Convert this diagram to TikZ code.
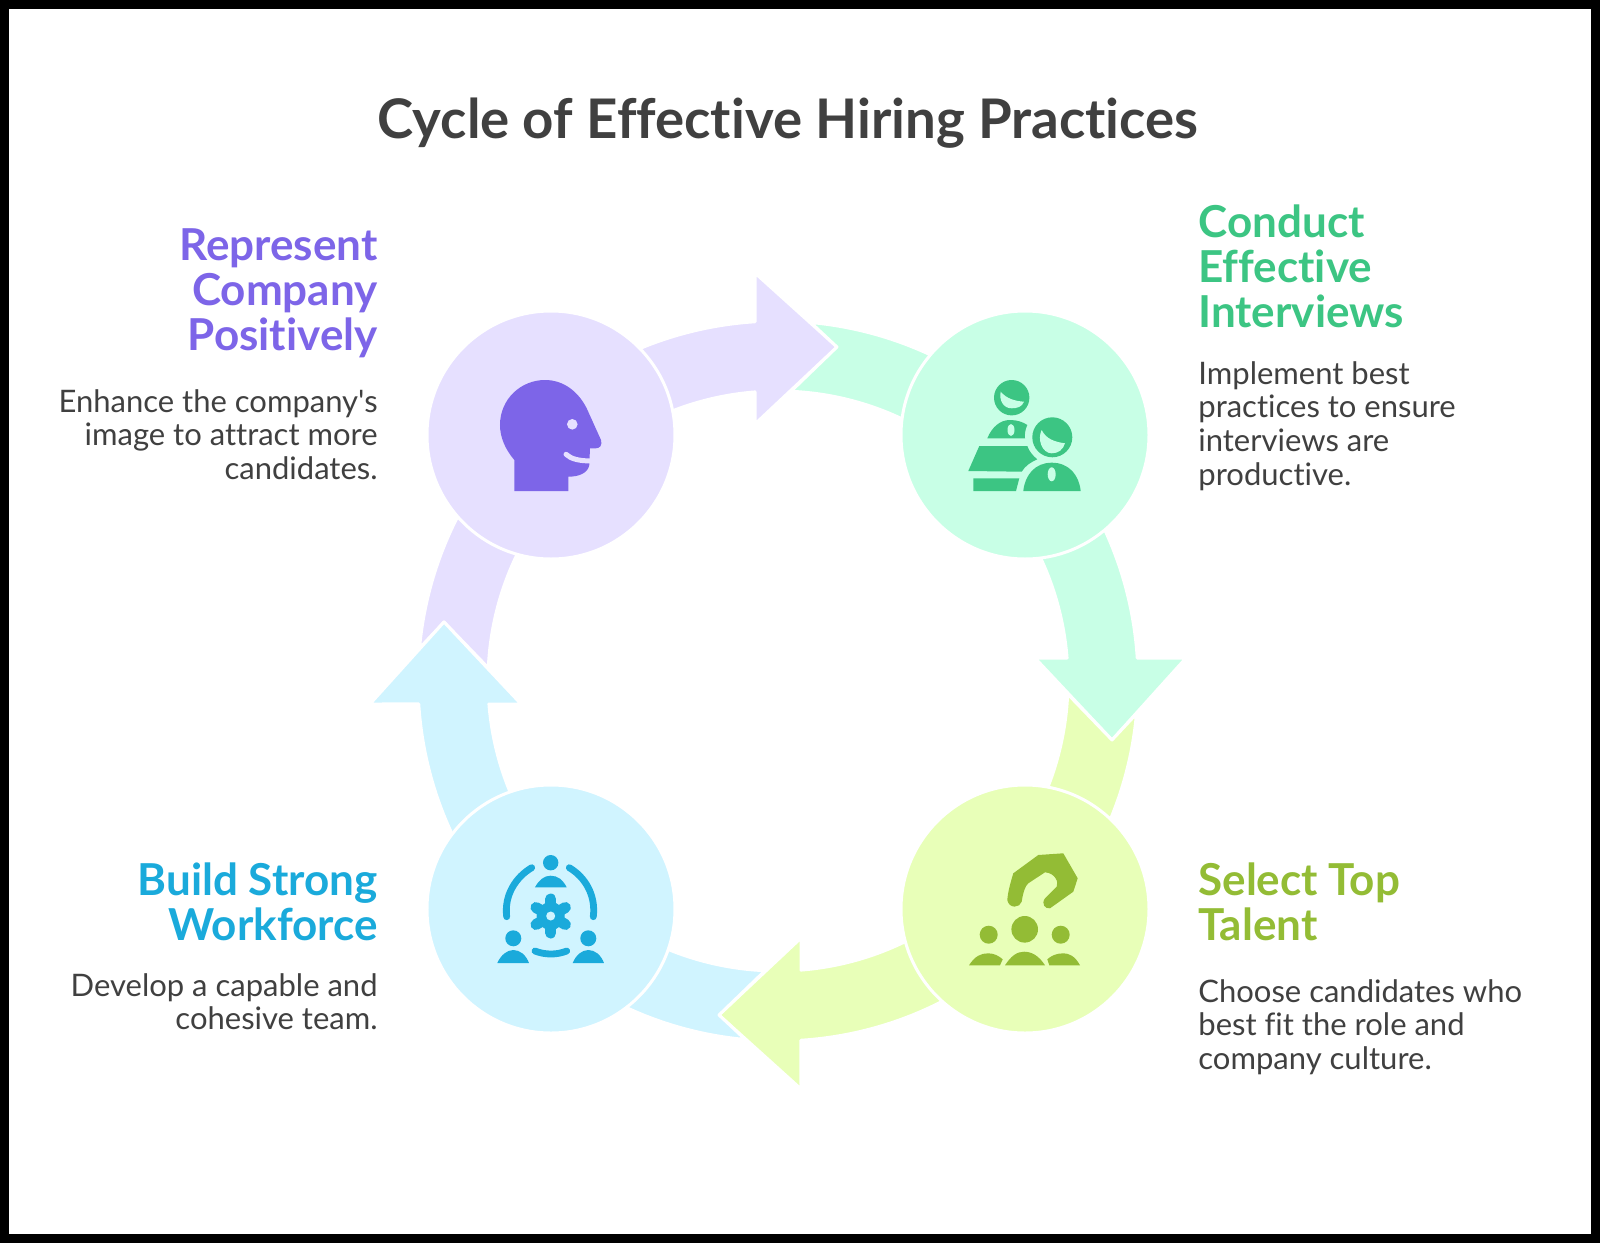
\documentclass[tikz,border=0pt]{standalone}
\usepackage{fontspec}
\setmainfont{Lato}[Ligatures={TeXOff,NoCommon}]
\usepackage{xcolor}
\usepackage{tikz}
\usetikzlibrary{positioning}
\definecolor{inkgrey}{RGB}{64,64,64}
\definecolor{repmain}{RGB}{125,101,232}
\definecolor{repsoft}{RGB}{230,224,255}
\definecolor{conmain}{RGB}{60,197,131}
\definecolor{consoft}{RGB}{200,255,230}
\definecolor{selmain}{RGB}{147,188,53}
\definecolor{selsoft}{RGB}{232,255,184}
\definecolor{buimain}{RGB}{26,170,219}
\definecolor{buisoft}{RGB}{208,244,255}
\tikzstyle{hub}=[circle,draw=white,line width=1.5pt,minimum size=124pt,inner sep=0pt]
\tikzstyle{flow}=[draw=white,line width=1.5pt,line join=round]
\tikzstyle{headlabel}=[inner sep=0pt,font=\fontsize{22}{22.5}\selectfont\bfseries]
\tikzstyle{bodylabel}=[inner sep=0pt,text=inkgrey,font=\fontsize{15.5}{16.85}\selectfont]

\begin{document}
\begin{tikzpicture}[x=0.5pt,y=0.5pt]
      \useasboundingbox (-778,-562) rectangle (822,681);
      \fill[black] (-778,-562) rectangle (822,681);
      \fill[white] (-769,-553) rectangle (813,672);

      \node[font=\fontsize{27.3}{32}\selectfont\bfseries,text=inkgrey] (title) at (10,558) {Cycle of Effective Hiring Practices};

      % block arrows, one per quarter of the ring
      \foreach \turn/\tone in {0/repsoft,-90/consoft,-180/selsoft,-270/buisoft}{
        \begin{scope}[rotate=\turn]
          \draw[flow,fill=\tone] (174.77:360) arc (174.77:93.66:360) -- (-23,408) -- (59,334) -- (-23,257)
            -- (94.55:290) arc (94.55:177.41:290) -- (-334,59) -- cycle;
        \end{scope}
      }

      \node[hub,fill=repsoft] (rep) at (-227,246) {};
      \node[hub,fill=consoft] (con) at (247,246) {};
      \node[hub,fill=selsoft] (sel) at (247,-228) {};
      \node[hub,fill=buisoft] (bui) at (-227,-228) {};

      % head icon
      \begin{scope}[shift={(rep.center)}]
        \fill[repmain] (-36.7,-56) -- (-36.7,-25) .. controls (-46,-14) and (-51,-2) .. (-51,10)
          .. controls (-51,36) and (-30,55) .. (-6,55) .. controls (12,55) and (27,44) .. (35.7,26.7)
          -- (50,-5) .. controls (51.5,-10) and (49,-13.3) .. (45,-13.3) -- (39,-13.3) -- (38.3,-30)
          .. controls (37,-38) and (28,-41.7) .. (17.3,-41.7) -- (17.3,-56) -- cycle;
        \fill[repsoft] (21.3,10.7) circle (5.3);
        \draw[repsoft,line width=2.5pt,line cap=round] (15,-19.3) .. controls (20,-24) and (28,-26) .. (41,-26);
      \end{scope}

      % interview icon
      \begin{scope}[shift={(con.center)}]
        \fill[conmain] (-13.3,37.3) circle (17.7);
        \fill[consoft] (-24.3,43.3) .. controls (-18,36) and (-10,34) .. (-1,33.3)
          .. controls (-3,28) and (-8,26.7) .. (-13.3,26.7) .. controls (-22,26.7) and (-26,35) .. (-24.3,43.3) -- cycle;
        \fill[conmain] (-37.7,-3.3) .. controls (-33,8) and (-25,15) .. (-15,15) .. controls (-8,15) and (-2,13) .. (2.3,10)
          .. controls (0,5) and (-0.5,0) .. (0,-3.3) -- cycle;
        \fill[consoft] (-14,5) ellipse (3.5 and 6);
        \fill[conmain] (27.3,-2.3) circle (20);
        \fill[consoft] (16.7,5) .. controls (21,-4) and (30,-7) .. (40,-8.3)
          .. controls (38,-15) and (33,-18.3) .. (26.7,-18.3) .. controls (17,-18.3) and (12,-4) .. (16.7,5) -- cycle;
        \fill[conmain] (-1.7,-56) .. controls (0,-40) and (10,-27.7) .. (26.7,-27.7) .. controls (44,-27.7) and (54,-40) .. (55.7,-56) -- cycle;
        \fill[consoft] (26.7,-39.3) ellipse (4 and 7);
        \fill[conmain] (-45.7,-11) -- (2.3,-11) .. controls (4,-16) and (8,-21) .. (12.3,-24.3)
          .. controls (6,-27) and (0,-31) .. (-3.3,-36.7) -- (-56.7,-36) -- cycle;
        \fill[conmain] (-51.7,-43.3) -- (-5.7,-43.3) -- (-9,-56) -- (-51.7,-56) -- cycle;
      \end{scope}

      % hand over people icon
      \begin{scope}[shift={(sel.center)}]
        \fill[selmain] (-17.7,9) .. controls (-17,18) and (-14,28) .. (-11.7,35.7) -- (13.3,54) -- (38.3,55.7) -- (52.7,30.7) -- (48.3,17.3) -- (25,0.7)
          .. controls (20,0) and (16,5) .. (20,10.7) -- (31.7,22.3) .. controls (34,27) and (30,36) .. (20,36.7)
          -- (3.3,25.7) .. controls (0,23) and (-2,16) .. (-3.3,7.3) .. controls (-5,1) and (-16,0) .. (-17.7,9) -- cycle;
        \fill[selmain] (-0.3,-20.3) circle (13.3);
        \fill[selmain] (-36.3,-25.7) circle (9);
        \fill[selmain] (35.7,-25.7) circle (9);
        \fill[selmain] (-20,-56.3) .. controls (-14,-47) and (-8,-42.7) .. (-1,-42.7) .. controls (7,-42.7) and (14,-47) .. (20,-56.3) -- cycle;
        \fill[selmain] (-56,-56.3) .. controls (-50,-47) and (-44,-44.3) .. (-36.7,-44.3) .. controls (-31,-44.3) and (-26,-47) .. (-22.3,-50.3) -- (-25,-56.3) -- cycle;
        \fill[selmain] (55,-56.3) .. controls (50,-47) and (44,-44.3) .. (38.3,-44.3) .. controls (31,-44.3) and (26,-47) .. (22.3,-50.3) -- (24.3,-56.3) -- cycle;
      \end{scope}

      % team with gear icon
      \begin{scope}[shift={(bui.center)}]
        \fill[buimain] (-0.3,46.3) circle (7.7);
        \fill[buimain] (-16,21.7) .. controls (-12,29) and (-7,33.3) .. (-0.3,33.3) .. controls (7,33.3) and (12,29) .. (15.7,21.7) -- cycle;
        \draw[buimain,line width=3.4pt,line cap=round] (-19.3,41.3) .. controls (-35,32) and (-47,14) .. (-44.3,-7.7);
        \draw[buimain,line width=3.4pt,line cap=round] (18.3,41.3) .. controls (34,32) and (45,14) .. (42.3,-7.7);
        \fill[buimain] (-0.3,-7) circle (14);
        \foreach \spoke in {30,90,...,330}
          \draw[buimain,line width=5.5pt,line cap=round] (-0.3,-7) -- ++(\spoke:17);
        \fill[buisoft] (-0.3,-7) circle (4.5);
        \fill[buimain] (-37.7,-29.3) circle (8);
        \fill[buimain] (-53.7,-54) .. controls (-50,-46) and (-44,-41) .. (-37.7,-41) .. controls (-31,-41) and (-25,-46) .. (-22,-54) -- cycle;
        \fill[buimain] (37.3,-29.3) circle (8);
        \fill[buimain] (21.7,-54) .. controls (25,-46) and (31,-41) .. (37.3,-41) .. controls (44,-41) and (50,-46) .. (53,-54) -- cycle;
        \draw[buimain,line width=3.4pt,line cap=round] (-16,-42) .. controls (-6,-46) and (6,-46) .. (15.7,-42);
      \end{scope}

      \node[headlabel,text=repmain,anchor=north east,align=right] (rephead) at (-400,453) {Represent\\Company\\Positively};
      \node[bodylabel,below=15.5pt of rephead.south east,anchor=north east,align=right] (repbody) {Enhance the company's\\image to attract more\\candidates.};

      \node[headlabel,text=conmain,anchor=north west,align=left] (conhead) at (420,477) {Conduct\\Effective\\Interviews};
      \node[bodylabel,below=16.5pt of conhead.south west,anchor=north west,align=left] (conbody) {Implement best\\practices to ensure\\interviews are\\productive.};

      \node[headlabel,text=selmain,anchor=north west,align=left] (selhead) at (420,-181) {Select Top\\Talent};
      \node[bodylabel,below=19pt of selhead.south west,anchor=north west,align=left] (selbody) {Choose candidates who\\best fit the role and\\company culture.};

      \node[headlabel,text=buimain,anchor=north east,align=right] (buihead) at (-400,-181) {Build Strong\\Workforce};
      \node[bodylabel,below=16pt of buihead.south east,anchor=north east,align=right] (buibody) {Develop a capable and\\cohesive team.};
    \end{tikzpicture}
\end{document}
